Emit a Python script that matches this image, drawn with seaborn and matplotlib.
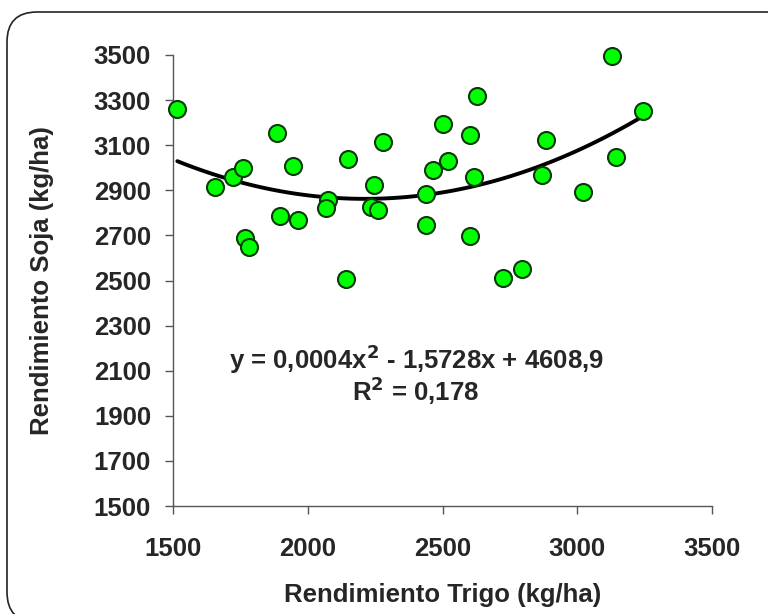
import matplotlib
matplotlib.use("Agg")
import matplotlib.pyplot as plt
from matplotlib.patches import FancyBboxPatch
import seaborn as sns
import pandas as pd

# datos
trigo = [1515, 1654, 1723, 1758, 1766, 1782, 1886, 1896, 1945, 1962,
         2076, 2066, 2140, 2148, 2246, 2233, 2262, 2278, 2439, 2439,
         2464, 2503, 2522, 2627, 2602, 2618, 2602, 2724, 2796, 2886,
         2870, 3023, 3130, 3146, 3244]
soja = [3261, 2914, 2961, 3001, 2687, 2649, 3154, 2788, 3009, 2767,
        2857, 2823, 2506, 3039, 2922, 2826, 2814, 3116, 2884, 2748,
        2989, 3193, 3030, 3318, 3144, 2961, 2699, 2513, 2553, 3125,
        2968, 2891, 3494, 3048, 3252]
x_ticks = [1500, 2000, 2500, 3000, 3500]
y_ticks = [1500, 1700, 1900, 2100, 2300, 2500, 2700, 2900, 3100, 3300, 3500]

df = pd.DataFrame({"trigo": trigo, "soja": soja})

sns.set_style("white")
plt.rcParams["font.family"] = ["Liberation Sans", "DejaVu Sans"]
plt.rcParams["font.weight"] = "bold"

fig = plt.figure(figsize=(7.68, 6.14), dpi=100)
ax = fig.add_axes([173.3 / 768, 1 - 506 / 614, (711.7 - 173.3) / 768, (506 - 55) / 614])

# recuadro redondeado alrededor
borde = FancyBboxPatch((0.07, -0.08), 7.9, 6.10, boxstyle="round,pad=0,rounding_size=0.3",
                       transform=fig.dpi_scale_trans, fill=False, edgecolor="#222222",
                       linewidth=1.2, clip_on=False)
fig.patches.append(borde)

# línea de tendencia polinómica (orden 2)
sns.regplot(data=df, x="trigo", y="soja", order=2, ci=None, scatter=False, truncate=True,
            line_kws={"color": "black", "linewidth": 2.8}, ax=ax)
sns.scatterplot(data=df, x="trigo", y="soja", s=150, color="#00ff00", edgecolor="#0a3a0a",
                linewidth=1.5, zorder=3, clip_on=False, ax=ax)

ax.set_xlim(1500, 3500)
ax.set_ylim(1500, 3500)
ax.set_xticks(x_ticks)
ax.set_yticks(y_ticks)
ax.tick_params(axis="both", labelsize=18.5, length=6, width=1, color="#555555",
               direction="out", left=True, bottom=True)
ax.tick_params(axis="y", pad=10)
ax.tick_params(axis="x", pad=16)
for lab in ax.get_xticklabels() + ax.get_yticklabels():
    lab.set_fontweight("bold")

for s in ["top", "right"]:
    ax.spines[s].set_visible(False)
for s in ["left", "bottom"]:
    ax.spines[s].set_color("#555555")
    ax.spines[s].set_linewidth(1)

ax.set_xlabel("Rendimiento Trigo (kg/ha)", fontsize=18.5, fontweight="bold", labelpad=16)
ax.set_ylabel("Rendimiento Soja (kg/ha)", fontsize=18.5, fontweight="bold", labelpad=29)

ax.text(2402, 2150, "y = 0,0004x$^{\\mathbf{2}}$ - 1,5728x + 4608,9", ha="center", va="center",
        fontsize=18.5, fontweight="bold")
ax.text(2402, 2012, "R$^{\\mathbf{2}}$ = 0,178", ha="center", va="center",
        fontsize=18.5, fontweight="bold")

fig.savefig("out.png", dpi=100)
